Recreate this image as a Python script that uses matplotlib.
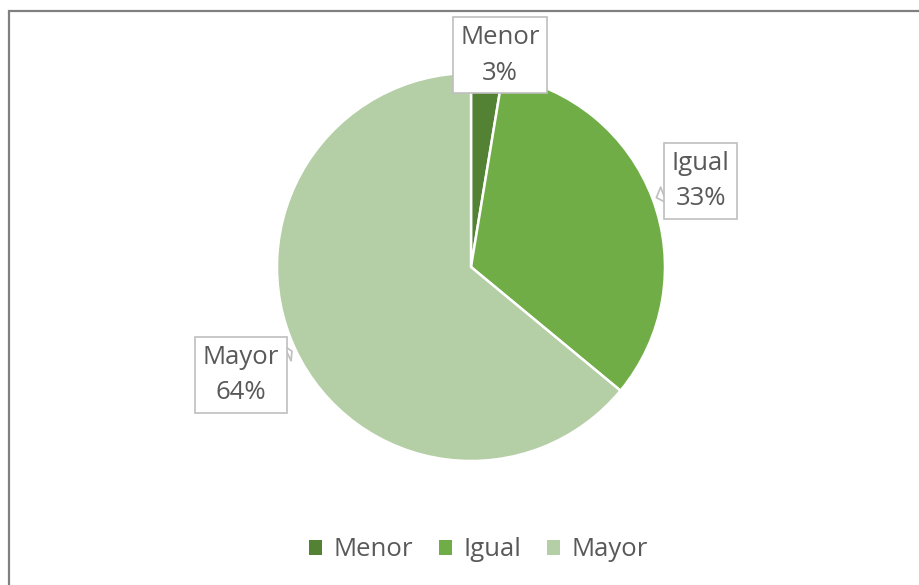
import numpy as np
import matplotlib
matplotlib.use("Agg")
import matplotlib.pyplot as plt
from matplotlib.patches import Rectangle

categories = ["Menor", "Igual", "Mayor"]
values = [2.6, 33.4, 64.0]
colors = ["#548235", "#70AD47", "#B4CEA5"]

plt.rcParams['font.family'] = ['Open Sans', 'DejaVu Sans']
TXT = "#595959"

W, H = 920, 585
fig = plt.figure(figsize=(W / 100, H / 100), dpi=100)
fig.patch.set_facecolor("white")

cx, cy, R = 471, 267, 194
ax = fig.add_axes([(cx - R) / W, (H - cy - R) / H, 2 * R / W, 2 * R / H])
wedges, _ = ax.pie(values, colors=colors, startangle=90, counterclock=False,
                   wedgeprops=dict(edgecolor="white", linewidth=1.8))
ax.set_xlim(-1, 1)
ax.set_ylim(-1, 1)
ax.set_aspect("auto")
ax.axis("off")

# label placement (layout)
label_r = [1.095, 1.265, 1.31]
label_dx = [0.06, 0.0, 0.0]
pointer = [False, True, True]

total = sum(values)
for i, (w, cat, v) in enumerate(zip(wedges, categories, values)):
    mid = np.deg2rad((w.theta1 + w.theta2) / 2)
    tx = label_r[i] * np.cos(mid) + label_dx[i]
    ty = label_r[i] * np.sin(mid)
    px, py = 1.02 * np.cos(mid), 1.02 * np.sin(mid)
    txt = f"{cat}\n{v / total * 100:.0f}%"
    kw = dict(ha="center", va="center", fontsize=18.5, color=TXT, linespacing=1.55,
              bbox=dict(boxstyle="square,pad=0.3", fc="white", ec="#BFBFBF", lw=1.2),
              annotation_clip=False, zorder=5)
    if pointer[i]:
        ax.annotate(txt, xy=(px, py), xytext=(tx, ty),
                    arrowprops=dict(arrowstyle="wedge,tail_width=0.65,shrink_factor=0.5",
                                    fc="white", ec="#BFBFBF", lw=1.2, shrinkA=0, shrinkB=0),
                    **kw)
    else:
        ax.annotate(txt, xy=(tx, ty), xytext=(tx, ty), **kw)

handles = [Rectangle((0, 0), 1, 1, fc=c, ec="none") for c in colors]
leg = fig.legend(handles, categories, loc="center", bbox_to_anchor=(0.52, 1 - 550 / H),
                 ncol=3, frameon=False, fontsize=18.5, handlelength=0.5, handleheight=0.5,
                 handletextpad=0.45, columnspacing=1.0)
for t in leg.get_texts():
    t.set_color(TXT)

fig.add_artist(Rectangle((8.5 / W, -0.1), 1.2, 1.1 - 11.5 / H, transform=fig.transFigure,
                         fill=False, ec="#808080", lw=1.6, zorder=10))

fig.savefig("out.png", dpi=100)
